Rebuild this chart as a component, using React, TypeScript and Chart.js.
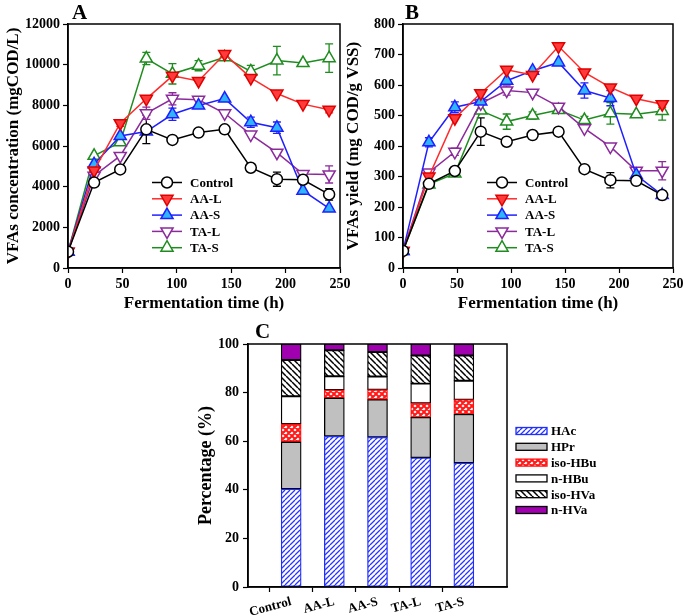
import React, { useEffect, useRef } from 'react';
import { Chart, registerables } from 'chart.js';
import { drawPoint } from 'chart.js/helpers';

Chart.register(...registerables);

const FONT = "'Times New Roman', 'Liberation Serif', serif";

// ---------- Data ----------
const times = [0, 24, 48, 72, 96, 120, 144, 168, 192, 216, 240];
const seriesNames = ['Control', 'AA-L', 'AA-S', 'TA-L', 'TA-S'];

// Panel A: VFAs concentration (mgCOD/L)
const concControl = [800, 4200, 4850, 6820, 6300, 6660, 6820, 4930, 4370, 4340, 3620];
const concAAL = [800, 4800, 7120, 8320, 9450, 9200, 10520, 9350, 8580, 8060, 7780];
const concAAS = [800, 5100, 6490, 6710, 7560, 7990, 8330, 7170, 6900, 3800, 2930];
const concTAL = [800, 4540, 5510, 7610, 8320, 8270, 7610, 6560, 5670, 4620, 4600];
const concTAS = [800, 5520, 6180, 10300, 9550, 9950, 10360, 9670, 10200, 10080, 10320];

const concErrControl = [0, 0, 0, 700, 0, 0, 0, 0, 350, 0, 280];
const concErrAAL = [0, 0, 150, 0, 0, 0, 150, 0, 0, 0, 150];
const concErrAAS = [0, 0, 0, 0, 300, 0, 0, 250, 280, 0, 0];
const concErrTAL = [0, 0, 0, 300, 300, 0, 0, 0, 0, 0, 420];
const concErrTAS = [0, 0, 0, 300, 500, 250, 0, 300, 700, 0, 700];

// Panel B: VFAs yield (mg COD/g VSS)
const yieldControl = [56, 276, 318, 447, 414, 436, 447, 324, 288, 286, 239];
const yieldAAL = [56, 300, 491, 573, 650, 633, 727, 641, 592, 555, 537];
const yieldAAS = [56, 412, 527, 546, 614, 647, 674, 582, 557, 305, 239];
const yieldTAL = [56, 313, 381, 540, 582, 575, 529, 458, 398, 319, 319];
const yieldTAS = [56, 274, 310, 516, 480, 500, 518, 485, 507, 504, 515];

const yieldErrControl = [0, 0, 0, 45, 0, 0, 0, 0, 25, 0, 15];
const yieldErrAAL = [0, 0, 0, 0, 0, 0, 0, 0, 0, 0, 10];
const yieldErrAAS = [0, 15, 18, 0, 0, 0, 0, 25, 25, 0, 10];
const yieldErrTAL = [0, 0, 12, 0, 15, 0, 0, 0, 0, 0, 30];
const yieldErrTAS = [0, 0, 0, 0, 25, 12, 0, 12, 35, 0, 30];

// Panel C: VFA composition (%)
const groups = ['Control', 'AA-L', 'AA-S', 'TA-L', 'TA-S'];
const compNames = ['HAc', 'HPr', 'iso-HBu', 'n-HBu', 'iso-HVa', 'n-HVa'];
const pctHAc = [40.3, 62.0, 61.6, 53.2, 51.0];
const pctHPr = [19.4, 15.8, 15.5, 16.6, 20.1];
const pctIsoHBu = [7.4, 3.3, 4.1, 5.8, 6.0];
const pctNHBu = [11.4, 5.6, 5.4, 8.1, 7.8];
const pctIsoHVa = [14.9, 10.7, 10.1, 11.6, 10.4];
const pctNHVa = [6.6, 2.6, 3.3, 4.7, 4.7];

const concTicks = { min: 0, max: 12000, step: 2000 };
const yieldTicks = { min: 0, max: 800, step: 100 };
const timeTicks = { min: 0, max: 250, step: 50 };
const pctTicks = { min: 0, max: 100, step: 20 };

// ---------- Styles ----------
const lineStyles = [
  { color: '#000000', fill: '#ffffff', border: '#000000', style: 'circle', rot: 0, r: 5.5 },
  { color: '#ff2a2a', fill: '#ff3a3a', border: '#e00000', style: 'triangle', rot: 180, r: 7 },
  { color: '#1f1fff', fill: '#2fb4ff', border: '#1f1fff', style: 'triangle', rot: 0, r: 7 },
  { color: '#8c2a9c', fill: '#ffffff', border: '#8c2a9c', style: 'triangle', rot: 180, r: 7 },
  { color: '#1f8c1f', fill: '#ffffff', border: '#1f8c1f', style: 'triangle', rot: 0, r: 7 },
];

// ---------- Plugins ----------
function framePlugin() {
  return {
    id: 'frame',
    afterDraw(chart: any) {
      const { ctx, chartArea: a } = chart;
      ctx.save();
      ctx.strokeStyle = '#000';
      ctx.lineWidth = 1.5;
      ctx.strokeRect(a.left, a.top, a.right - a.left, a.bottom - a.top);
      ctx.restore();
    },
  };
}

function letterPlugin(text: string, x: number, y: number) {
  return {
    id: 'letter',
    afterDraw(chart: any) {
      const ctx = chart.ctx;
      ctx.save();
      ctx.fillStyle = '#000';
      ctx.font = `bold 21px ${FONT}`;
      ctx.textBaseline = 'alphabetic';
      ctx.textAlign = 'left';
      ctx.fillText(text, x, y);
      ctx.restore();
    },
  };
}

function errorBarPlugin(errs: number[][]) {
  return {
    id: 'errbars',
    beforeDatasetsDraw(chart: any) {
      const { ctx } = chart;
      const xs = chart.scales.x;
      const ys = chart.scales.y;
      chart.data.datasets.forEach((ds: any, i: number) => {
        const e = errs[i];
        ds.data.forEach((p: any, j: number) => {
          if (!e || !e[j]) return;
          const px = xs.getPixelForValue(p.x);
          const top = ys.getPixelForValue(p.y + e[j]);
          const bot = ys.getPixelForValue(p.y - e[j]);
          ctx.save();
          ctx.strokeStyle = ds.borderColor;
          ctx.lineWidth = 1.3;
          ctx.beginPath();
          ctx.moveTo(px, top);
          ctx.lineTo(px, bot);
          ctx.moveTo(px - 4, top);
          ctx.lineTo(px + 4, top);
          ctx.moveTo(px - 4, bot);
          ctx.lineTo(px + 4, bot);
          ctx.stroke();
          ctx.restore();
        });
      });
    },
  };
}

function lineLegendPlugin(x0: number, x1: number, textX: number, y0: number, dy: number) {
  return {
    id: 'lineLegend',
    afterDraw(chart: any) {
      const { ctx } = chart;
      chart.data.datasets.forEach((ds: any, i: number) => {
        const y = y0 + i * dy;
        ctx.save();
        ctx.strokeStyle = ds.borderColor;
        ctx.lineWidth = 1.5;
        ctx.beginPath();
        ctx.moveTo(x0, y);
        ctx.lineTo(x1, y);
        ctx.stroke();
        ctx.fillStyle = ds.pointBackgroundColor;
        ctx.strokeStyle = ds.pointBorderColor;
        ctx.lineWidth = 1.5;
        drawPoint(ctx, { pointStyle: ds.pointStyle, rotation: ds.pointRotation, radius: ds.pointRadius, borderWidth: 1.5 } as any, (x0 + x1) / 2, y);
        ctx.fillStyle = '#000';
        ctx.font = `bold 13px ${FONT}`;
        ctx.textBaseline = 'middle';
        ctx.textAlign = 'left';
        ctx.fillText(ds.label, textX, y + 1);
        ctx.restore();
      });
    },
  };
}

function barLegendPlugin(x0: number, w: number, h: number, textX: number, y0: number, dy: number) {
  return {
    id: 'barLegend',
    afterDraw(chart: any) {
      const { ctx } = chart;
      chart.data.datasets.forEach((ds: any, i: number) => {
        const y = y0 + i * dy;
        ctx.save();
        ctx.fillStyle = ds.backgroundColor;
        ctx.fillRect(x0, y - h / 2, w, h);
        ctx.strokeStyle = ds.borderColor;
        ctx.lineWidth = 1.3;
        ctx.strokeRect(x0, y - h / 2, w, h);
        ctx.fillStyle = '#000';
        ctx.font = `bold 13px ${FONT}`;
        ctx.textBaseline = 'middle';
        ctx.textAlign = 'left';
        ctx.fillText(ds.label, textX, y + 1);
        ctx.restore();
      });
    },
  };
}

// ---------- Helpers ----------
const tickFont = { family: FONT, size: 14, weight: 'bold' as const };
const titleFont = { family: FONT, size: 17, weight: 'bold' as const };

function axisCommon() {
  return {
    grid: { display: true, drawOnChartArea: false, drawTicks: true, tickLength: 5, tickColor: '#000', tickWidth: 1.2 },
    border: { display: true, color: '#000', width: 1.5 },
  };
}

function lineDatasets(series: number[][]) {
  return series.map((vals, i) => {
    const s = lineStyles[i];
    return {
      label: seriesNames[i],
      data: times.map((t, j) => ({ x: t, y: vals[j] })),
      borderColor: s.color,
      borderWidth: 1.5,
      pointStyle: s.style,
      pointRotation: s.rot,
      pointRadius: s.r,
      pointBackgroundColor: s.fill,
      pointBorderColor: s.border,
      pointBorderWidth: 1.5,
      tension: 0,
      fill: false,
    };
  });
}

function makeLineChart(
  canvas: HTMLCanvasElement,
  series: number[][],
  errs: number[][],
  yt: { min: number; max: number; step: number },
  yTitle: string,
  o: { padRight: number; yWidth: number; xHeight: number; yTitlePad: number; xTitlePad: number; letter: string; letterX: number; leg: number[] }
) {
  return new Chart(canvas, {
    type: 'line',
    data: { datasets: lineDatasets(series) as any },
    options: {
      animation: false,
      responsive: false,
      devicePixelRatio: 1,
      layout: { padding: { left: 0, top: 24, right: o.padRight, bottom: 0 } },
      plugins: { legend: { display: false }, tooltip: { enabled: false } },
      scales: {
        x: {
          type: 'linear',
          min: timeTicks.min,
          max: timeTicks.max,
          ...axisCommon(),
          ticks: { stepSize: timeTicks.step, color: '#000', font: tickFont, padding: 3 },
          title: { display: true, text: 'Fermentation time (h)', color: '#000', font: titleFont, padding: { top: 0, bottom: o.xTitlePad } },
          afterFit: (s: any) => { s.height = o.xHeight; },
        },
        y: {
          type: 'linear',
          min: yt.min,
          max: yt.max,
          ...axisCommon(),
          ticks: { stepSize: yt.step, color: '#000', font: tickFont, padding: 3, callback: (v: any) => String(v) },
          title: { display: true, text: yTitle, color: '#000', font: titleFont, padding: { top: o.yTitlePad, bottom: 0 } },
          afterFit: (s: any) => { s.width = o.yWidth; },
        },
      },
    } as any,
    plugins: [
      errorBarPlugin(errs),
      framePlugin(),
      letterPlugin(o.letter, o.letterX, 19),
      lineLegendPlugin(o.leg[0], o.leg[1], o.leg[2], o.leg[3], o.leg[4]),
    ],
  });
}

function hatchPattern(bg: string, fg: string, size: number, lw: number, dirs: number[]) {
  const c = document.createElement('canvas');
  c.width = size;
  c.height = size;
  const g = c.getContext('2d')!;
  g.fillStyle = bg;
  g.fillRect(0, 0, size, size);
  g.strokeStyle = fg;
  g.lineWidth = lw;
  g.beginPath();
  for (const d of dirs) {
    for (const off of [-size, 0, size]) {
      if (d > 0) {
        g.moveTo(off, size);
        g.lineTo(off + size, 0);
      } else {
        g.moveTo(off, 0);
        g.lineTo(off + size, size);
      }
    }
  }
  g.stroke();
  return g.createPattern(c, 'repeat')!;
}

function makeBarChart(canvas: HTMLCanvasElement) {
  const comps = [pctHAc, pctHPr, pctIsoHBu, pctNHBu, pctIsoHVa, pctNHVa];
  const fills: any[] = [
    hatchPattern('#ffffff', '#2a35ff', 5, 1.3, [1]),
    '#c0c0c0',
    hatchPattern('#ffffff', '#ff1a1a', 6, 2, [1, -1]),
    '#ffffff',
    hatchPattern('#ffffff', '#000000', 6, 1.5, [-1]),
    '#a000b0',
  ];
  const borders = ['#1f2fff', '#000000', '#ff1010', '#000000', '#000000', '#000000'];
  const labels = ['', ...groups, ''];
  const datasets = comps.map((vals, i) => ({
    label: compNames[i],
    data: [null, ...vals, null],
    backgroundColor: fills[i],
    borderColor: borders[i],
    borderWidth: 1.3,
    borderSkipped: false,
    barThickness: 20,
  }));
  const n = labels.length;
  return new Chart(canvas, {
    type: 'bar',
    data: { labels, datasets: datasets as any },
    options: {
      animation: false,
      responsive: false,
      devicePixelRatio: 1,
      layout: { padding: { left: 0, top: 34, right: 178, bottom: 0 } },
      plugins: { legend: { display: false }, tooltip: { enabled: false } },
      scales: {
        x: {
          type: 'category',
          offset: false,
          stacked: true,
          grid: {
            display: true,
            drawOnChartArea: false,
            drawTicks: true,
            tickLength: 5,
            tickWidth: 1.2,
            tickColor: (c: any) => (c.index === 0 || c.index === n - 1 ? 'rgba(0,0,0,0)' : '#000'),
          },
          border: { display: true, color: '#000', width: 1.5 },
          ticks: { color: '#000', font: { family: FONT, size: 13, weight: 'bold' }, minRotation: 15, maxRotation: 15, autoSkip: false, padding: 2 },
          afterFit: (s: any) => { s.height = 29; },
        },
        y: {
          type: 'linear',
          stacked: true,
          min: pctTicks.min,
          max: pctTicks.max,
          ...axisCommon(),
          ticks: { stepSize: pctTicks.step, color: '#000', font: tickFont, padding: 4, callback: (v: any) => String(v) },
          title: { display: true, text: 'Percentage (%)', color: '#000', font: { family: FONT, size: 18, weight: 'bold' }, padding: { top: 36, bottom: 0 } },
          afterFit: (s: any) => { s.width = 88; },
        },
      },
    } as any,
    plugins: [framePlugin(), letterPlugin('C', 95, 28), barLegendPlugin(356, 31, 7, 391, 121, 15.8)],
  });
}

// ---------- Components ----------
function ChartCanvas({ left, top, width, height, make }: { left: number; top: number; width: number; height: number; make: (c: HTMLCanvasElement) => Chart }) {
  const ref = useRef<HTMLCanvasElement | null>(null);
  useEffect(() => {
    const chart = make(ref.current!);
    return () => chart.destroy();
  }, []);
  return <canvas ref={ref} width={width} height={height} style={{ position: 'absolute', left, top, width, height }} />;
}

export default function App() {
  Chart.defaults.font.family = FONT;
  return (
    <div style={{ position: 'fixed', left: 0, top: 0, width: 685, height: 616, overflow: 'hidden', background: '#fff' }}>
      <ChartCanvas
        left={160}
        top={310}
        width={525}
        height={306}
        make={(c) => makeBarChart(c)}
      />
      <ChartCanvas
        left={0}
        top={0}
        width={370}
        height={320}
        make={(c) =>
          makeLineChart(
            c,
            [concControl, concAAL, concAAS, concTAL, concTAS],
            [concErrControl, concErrAAL, concErrAAS, concErrTAL, concErrTAS],
            concTicks,
            'VFAs concentration (mgCOD/L)',
            { padRight: 30, yWidth: 68, xHeight: 52, yTitlePad: 3.5, xTitlePad: 6, letter: 'A', letterX: 72, leg: [152, 182, 190, 182.5, 16.3] }
          )
        }
      />
      <ChartCanvas
        left={340}
        top={0}
        width={360}
        height={320}
        make={(c) =>
          makeLineChart(
            c,
            [yieldControl, yieldAAL, yieldAAS, yieldTAL, yieldTAS],
            [yieldErrControl, yieldErrAAL, yieldErrAAS, yieldErrTAL, yieldErrTAS],
            yieldTicks,
            'VFAs yield (mg COD/g VSS)',
            { padRight: 27, yWidth: 63, xHeight: 52, yTitlePad: 3, xTitlePad: 6, letter: 'B', letterX: 65, leg: [147, 177, 185, 182.5, 16.3] }
          )
        }
      />
    </div>
  );
}
